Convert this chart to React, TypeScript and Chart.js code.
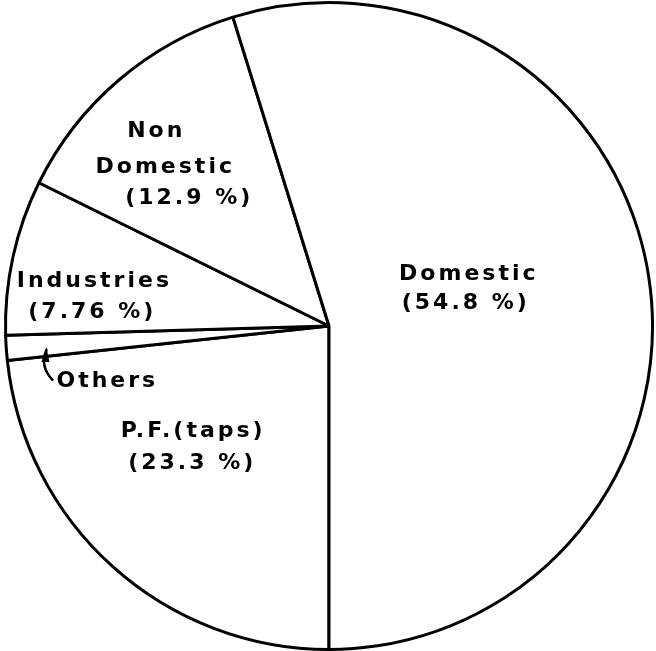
import React, { useEffect, useRef } from "react";
import { Chart, registerables } from "chart.js";

Chart.register(...registerables);

// Data (order: clockwise starting from the 6 o'clock line)
const categories = ["P.F. (taps)", "Others", "Industries", "Non Domestic", "Domestic"];
const shares = [23.3, 1.24, 7.76, 12.9, 54.8];

// Label text lines per category
const labelLines: string[][] = [
  ["P.F.(taps)", "(23.3 %)"],
  ["Others"],
  ["Industries", "(7.76 %)"],
  ["Non", "Domestic", "(12.9 %)"],
  ["Domestic", "(54.8 %)"],
];

// Layout: per line [dx, dy] offsets of text centre/baseline from pie centre, in units of a 324px radius
const labelLayout: [number, number][][] = [
  [[-136, 111], [-137, 143]],
  [[-222, 61]],
  [[-235, -39], [-237, -8]],
  [[-173, -189], [-164, -153], [-140, -122]],
  [[140, -46], [137, -17]],
];

const REF_R = 324;

const labelPlugin = {
  id: "handLabels",
  afterDatasetsDraw(chart: any) {
    const meta = chart.getDatasetMeta(0);
    const arc: any = meta.data[0];
    if (!arc) return;
    const cx = arc.x;
    const cy = arc.y;
    const r = arc.outerRadius;
    const k = r / REF_R;
    const ctx = chart.ctx;
    ctx.save();
    ctx.fillStyle = "#000";
    ctx.font = "bold 22px 'DejaVu Sans'";
    (ctx as any).letterSpacing = "3px";
    ctx.textAlign = "center";
    ctx.textBaseline = "alphabetic";
    labelLines.forEach((lines, i) => {
      lines.forEach((t, j) => {
        const [dx, dy] = labelLayout[i][j];
        ctx.fillText(t, cx + dx * k, cy + dy * k);
      });
    });
    // pointer from "Others" label to its thin slice
    ctx.strokeStyle = "#000";
    ctx.lineWidth = 2.5;
    ctx.lineCap = "round";
    const p = (dx: number, dy: number) => [cx + dx * k, cy + dy * k];
    const [sx, sy] = p(-277, 54);
    const [qx, qy] = p(-290, 40);
    const [ex, ey] = p(-283, 24);
    ctx.beginPath();
    ctx.moveTo(sx, sy);
    ctx.quadraticCurveTo(qx, qy, ex, ey);
    ctx.stroke();
    const [h1x, h1y] = p(-283, 21);
    const [h2x, h2y] = p(-288, 36);
    const [h3x, h3y] = p(-280, 36);
    ctx.beginPath();
    ctx.moveTo(h1x, h1y);
    ctx.lineTo(h2x, h2y);
    ctx.lineTo(h3x, h3y);
    ctx.closePath();
    ctx.fill();
    ctx.restore();
  },
};

export default function App() {
  const ref = useRef<HTMLCanvasElement | null>(null);
  useEffect(() => {
    if (!ref.current) return;
    const chart = new Chart(ref.current, {
      type: "pie",
      data: {
        labels: categories,
        datasets: [
          {
            data: shares,
            backgroundColor: "#ffffff",
            borderColor: "#000000",
            borderWidth: 3,
          },
        ],
      },
      options: {
        animation: false,
        responsive: true,
        maintainAspectRatio: false,
        rotation: 180,
        layout: { padding: { left: 2, top: 1, right: 0, bottom: 0 } },
        plugins: {
          legend: { display: false },
          tooltip: { enabled: false },
        },
      },
      plugins: [labelPlugin],
    });
    return () => chart.destroy();
  }, []);
  return (
    <div
      style={{
        position: "fixed",
        left: 0,
        top: 0,
        width: 656,
        height: 651,
        background: "#fff",
      }}
    >
      <canvas ref={ref} />
    </div>
  );
}
